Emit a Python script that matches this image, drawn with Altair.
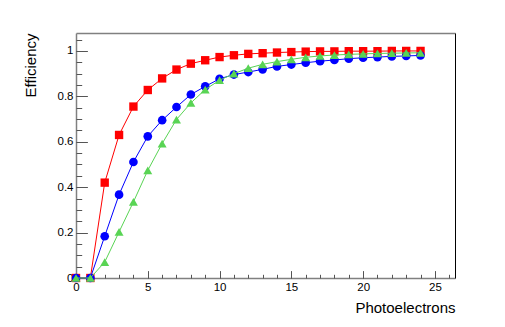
import altair as alt
import pandas as pd

# ---- data ----
x_pe = list(range(25))
red_eff = [0, 0, 0.42, 0.63, 0.755, 0.828, 0.879, 0.918, 0.944, 0.959, 0.973, 0.981,
           0.987, 0.990, 0.993, 0.995, 0.997, 0.998, 0.998, 0.999, 0.999, 0.999, 1.0, 1.0, 1.0]
blue_eff = [0, 0, 0.184, 0.367, 0.511, 0.624, 0.695, 0.753, 0.808, 0.844, 0.877, 0.896,
            0.907, 0.919, 0.932, 0.940, 0.948, 0.955, 0.960, 0.966, 0.970, 0.973, 0.976, 0.978, 0.980]
green_eff = [0, 0, 0.07, 0.203, 0.335, 0.474, 0.592, 0.698, 0.771, 0.830, 0.871, 0.900,
             0.924, 0.941, 0.953, 0.963, 0.972, 0.978, 0.982, 0.985, 0.987, 0.989, 0.990, 0.991, 0.992]

series_names = ["red", "blue", "green"]
series_colors = ["#ff0000", "#0000ff", "#59d454"]
series_shapes = ["square", "circle", "triangle-up"]
series_sizes = [70, 75, 80]

x_major = [0, 5, 10, 15, 20, 25]
x_minor = list(range(0, 27))
y_major = [0, 0.2, 0.4, 0.6, 0.8, 1]
y_minor = [0, 0.05, 0.1, 0.15, 0.2, 0.25, 0.3, 0.35, 0.4, 0.45, 0.5, 0.55, 0.6, 0.65,
           0.7, 0.75, 0.8, 0.85, 0.9, 0.95, 1.0, 1.05]

rows = []
for name, vals in zip(series_names, [red_eff, blue_eff, green_eff]):
    for xv, yv in zip(x_pe, vals):
        rows.append({"x": xv, "eff": yv, "series": name})
df = pd.DataFrame(rows)

W, H = 379, 245
FONT = "Liberation Sans"
xs = alt.Scale(domain=[0, 26.4], nice=False, zero=False)
ys = alt.Scale(domain=[0, 1.079], nice=False)

base = alt.Chart(df)

# main axes: labels, domain, titles
main = base.mark_point(opacity=0).encode(
    x=alt.X("x:Q", scale=xs, axis=alt.Axis(
        orient="bottom", values=x_major, format="~g", ticks=False, tickSize=0,
        grid=False, domain=True, domainColor="#808080", domainWidth=1.5,
        labelFont=FONT, labelFontSize=11.5, labelColor="black", labelPadding=3,
        labelFlush=False, labelOverlap=False,
        title="Photoelectrons", titleFont=FONT, titleFontSize=15,
        titleFontWeight="normal", titleColor="black",
        titleAlign="right", titleBaseline="alphabetic", titleX=W, titleY=34)),
    y=alt.Y("eff:Q", scale=ys, axis=alt.Axis(
        orient="left", values=y_major, format="~g", ticks=False, tickSize=0,
        grid=False, domain=True, domainColor="#808080", domainWidth=1.5,
        labelFont=FONT, labelFontSize=11.5, labelColor="black", labelPadding=3,
        labelFlush=False, labelOverlap=False,
        title="Efficiency", titleFont=FONT, titleFontSize=15,
        titleFontWeight="normal", titleColor="black", titleAngle=270,
        titleAlign="right", titleBaseline="alphabetic", titleX=-41, titleY=0)),
)

# major ticks pointing inward
major = base.mark_point(opacity=0).encode(
    x=alt.X("x:Q", scale=xs, axis=alt.Axis(
        orient="bottom", values=x_major, ticks=True, tickSize=7.4, offset=-7.4,
        tickColor="#555555", labels=False, domain=False, grid=False, title=None)),
    y=alt.Y("eff:Q", scale=ys, axis=alt.Axis(
        orient="left", values=y_major, ticks=True, tickSize=11.4, offset=-11.4,
        tickColor="#555555", labels=False, domain=False, grid=False, title=None)),
)

# minor ticks pointing inward
minor = base.mark_point(opacity=0).encode(
    x=alt.X("x:Q", scale=xs, axis=alt.Axis(
        orient="bottom", values=x_minor, ticks=True, tickSize=3.7, offset=-3.7,
        tickColor="#555555", labels=False, domain=False, grid=False, title=None)),
    y=alt.Y("eff:Q", scale=ys, axis=alt.Axis(
        orient="left", values=y_minor, ticks=True, tickSize=5.7, offset=-5.7,
        tickColor="#555555", labels=False, domain=False, grid=False, title=None)),
)

# frame top / right
frame = base.mark_point(opacity=0).encode(
    x=alt.X("x:Q", scale=xs, axis=alt.Axis(
        orient="top", ticks=False, labels=False, domain=True, domainColor="#808080",
        domainWidth=1.5, grid=False, title=None)),
    y=alt.Y("eff:Q", scale=ys, axis=alt.Axis(
        orient="right", ticks=False, labels=False, domain=True, domainColor="black",
        domainWidth=1, grid=False, title=None)),
)

layers = [main, major, minor, frame]
for name, col, shp, sz in zip(series_names, series_colors, series_shapes, series_sizes):
    sub = base.transform_filter(alt.datum.series == name)
    line = sub.mark_line(color=col, strokeWidth=1).encode(
        x=alt.X("x:Q", scale=xs, axis=None),
        y=alt.Y("eff:Q", scale=ys, axis=None),
    )
    pts = sub.mark_point(filled=True, color=col, shape=shp, size=sz, opacity=1).encode(
        x=alt.X("x:Q", scale=xs, axis=None),
        y=alt.Y("eff:Q", scale=ys, axis=None),
    )
    layers += [line, pts]

chart = alt.layer(*layers).resolve_axis(x="independent", y="independent").properties(
    width=W, height=H,
    autosize=alt.AutoSizeParams(type="none"),
    padding={"left": 68, "top": 25, "right": 40, "bottom": 40},
    background="white",
).configure_view(stroke=None)

chart.save("out.html", embed_options={"renderer": "svg", "actions": False})
